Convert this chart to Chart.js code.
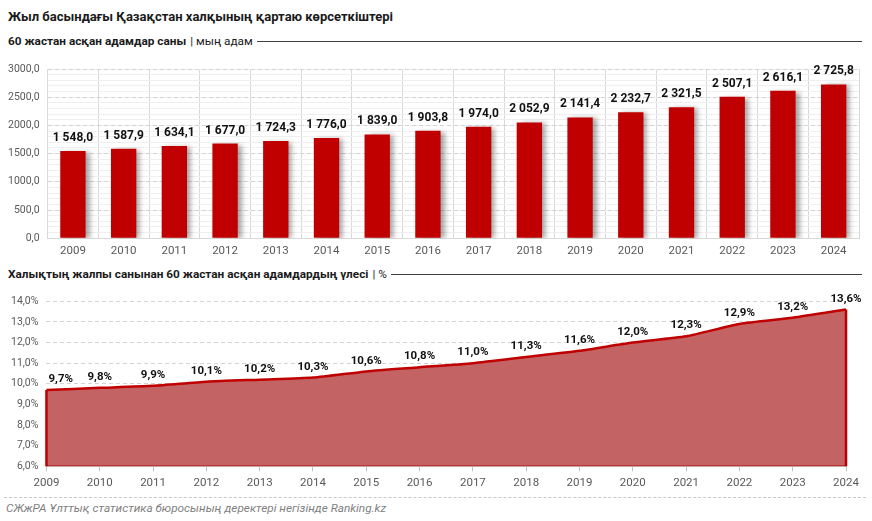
<!DOCTYPE html>
<html>
<head>
<meta charset="utf-8">
<script src="https://cdn.jsdelivr.net/npm/chart.js@4.4.1/dist/chart.umd.min.js"></script>
<style>
  body { margin: 0; width: 872px; height: 521px; background: #fff; position: relative; overflow: hidden; font-family: Roboto, "Noto Sans", sans-serif; }
  .title { position: absolute; left: 8px; top: 9px; font-size: 13px; font-weight: bold; color: #1a1a1a; }
  .sub { position: absolute; left: 8px; width: 854px; display: flex; align-items: center; font-size: 11.8px; color: #1a1a1a; }
  .sub b { white-space: nowrap; }
  .sub span { white-space: nowrap; margin-left: 4px; }
  .sub i { flex: 1; border-top: 1px solid #404040; margin-left: 4px; height: 0; }
  .box { position: absolute; left: 0; width: 872px; }
  .dots { position: absolute; left: 4px; width: 862px; top: 497px; border-top: 1px dashed #c8c8c8; }
  .foot { position: absolute; left: 6px; top: 501px; font-size: 11.8px; font-style: italic; color: #7f7f7f; }
</style>
</head>
<body>
<div class="title">Жыл басындағы Қазақстан халқының қартаю көрсеткіштері</div>
<div class="sub" style="top:34px"><b>60 жастан асқан адамдар саны</b><span>| мың адам</span><i></i></div>
<div class="box" style="top:52px;height:212px"><canvas id="countChart"></canvas></div>
<div class="sub" style="top:267px"><b>Халықтың жалпы санынан 60 жастан асқан адамдардың үлесі</b><span>| %</span><i></i></div>
<div class="box" style="top:287px;height:208px"><canvas id="shareChart"></canvas></div>
<div class="dots"></div>
<div class="foot">СЖжРА Ұлттық статистика бюросының деректері негізінде Ranking.kz</div>

<script>
const years = ['2009','2010','2011','2012','2013','2014','2015','2016','2017','2018','2019','2020','2021','2022','2023','2024'];
const elderly = [1548.0, 1587.9, 1634.1, 1677.0, 1724.3, 1776.0, 1839.0, 1903.8, 1974.0, 2052.9, 2141.4, 2232.7, 2321.5, 2507.1, 2616.1, 2725.8];
const share = [9.7, 9.8, 9.9, 10.1, 10.2, 10.3, 10.6, 10.8, 11.0, 11.3, 11.6, 12.0, 12.3, 12.9, 13.2, 13.6];

const FONT = 'Roboto, "Noto Sans", sans-serif';
const RED = '#c00000';

// 1548.0 -> "1 548,0"
function fmtNum(v) {
    const parts = v.toFixed(1).split('.');
    return parts[0].replace(/\B(?=(\d{3})+(?!\d))/g, ' ') + ',' + parts[1];
}
function fmtPct(v) {
    return v.toFixed(1).replace('.', ',') + '%';
}

// подписи значений над столбцами / точками
const valueLabels = {
    id: 'valueLabels',
    afterDatasetsDraw(chart, args, opts) {
        const ctx = chart.ctx;
        const meta = chart.getDatasetMeta(0);
        const data = chart.data.datasets[0].data;
        ctx.save();
        ctx.font = opts.font;
        ctx.fillStyle = '#111';
        ctx.textAlign = 'center';
        ctx.textBaseline = 'bottom';
        meta.data.forEach((el, i) => {
            const txt = opts.format(data[i]);
            const w = ctx.measureText(txt).width;
            let x = Math.max(el.x, chart.chartArea.left + w / 2 + 2);
            x = Math.min(x, chart.width - w / 2 - 4);
            ctx.fillText(txt, x, el.y - opts.offset);
        });
        ctx.restore();
    }
};

const barShadow = {
    id: 'barShadow',
    beforeDatasetDraw(chart) {
        const ctx = chart.ctx;
        ctx.save();
        ctx.shadowColor = 'rgba(0,0,0,0.35)';
        ctx.shadowOffsetX = 4;
        ctx.shadowOffsetY = 1;
        ctx.shadowBlur = 5;
    },
    afterDatasetDraw(chart) {
        chart.ctx.restore();
    }
};

// красная рамка по краям области
const areaEdges = {
    id: 'areaEdges',
    afterDatasetsDraw(chart) {
        const ctx = chart.ctx;
        const pts = chart.getDatasetMeta(0).data;
        const bottom = chart.scales.y.getPixelForValue(chart.scales.y.min);
        const first = pts[0], last = pts[pts.length - 1];
        ctx.save();
        ctx.strokeStyle = RED;
        ctx.lineWidth = 2.5;
        ctx.beginPath();
        ctx.moveTo(first.x, first.y);
        ctx.lineTo(first.x, bottom);
        ctx.moveTo(last.x, last.y);
        ctx.lineTo(last.x, bottom);
        ctx.stroke();
        ctx.lineWidth = 1;
        ctx.strokeStyle = 'rgba(192,0,0,0.6)';
        ctx.beginPath();
        ctx.moveTo(first.x, bottom - 0.5);
        ctx.lineTo(last.x, bottom - 0.5);
        ctx.stroke();
        ctx.restore();
    }
};

Chart.defaults.font.family = FONT;
Chart.defaults.color = '#595959';
Chart.defaults.animation = false;

new Chart(document.getElementById('countChart'), {
    type: 'bar',
    data: {
        labels: years,
        datasets: [{
            data: elderly,
            backgroundColor: RED,
            categoryPercentage: 1,
            barPercentage: 0.5
        }]
    },
    options: {
        responsive: true,
        maintainAspectRatio: false,
        layout: { padding: { left: 0, right: 13, top: 17, bottom: 0 } },
        plugins: {
            legend: { display: false },
            tooltip: { enabled: false },
            valueLabels: { font: 'bold 12px ' + FONT, offset: 7, format: fmtNum }
        },
        scales: {
            x: {
                grid: { color: '#d9d9d9', drawTicks: false },
                border: { color: '#d9d9d9' },
                ticks: { font: { size: 11.5 }, padding: 6 }
            },
            yMinor: {
                position: 'left',
                min: 0, max: 3000,
                ticks: { display: false, stepSize: 100 },
                grid: { color: '#efefef', drawTicks: false },
                border: { display: false }
            },
            y: {
                position: 'left',
                min: 0, max: 3000,
                ticks: {
                    stepSize: 500,
                    padding: 8,
                    font: { size: 10.5 },
                    callback: v => v.toFixed(1).replace('.', ',')
                },
                grid: { color: '#d4d4d4', drawTicks: false },
                border: { display: false, dash: [4, 3] }
            }
        }
    },
    plugins: [barShadow, valueLabels]
});

new Chart(document.getElementById('shareChart'), {
    type: 'line',
    data: {
        labels: years,
        datasets: [{
            data: share,
            borderColor: RED,
            borderWidth: 2.5,
            backgroundColor: '#c46363',
            fill: 'start',
            tension: 0.2,
            pointRadius: 0
        }]
    },
    options: {
        responsive: true,
        maintainAspectRatio: false,
        layout: { padding: { left: 3, right: 26, top: 8, bottom: 0 } },
        plugins: {
            legend: { display: false },
            tooltip: { enabled: false },
            valueLabels: { font: 'bold 11.5px ' + FONT, offset: 5, format: fmtPct }
        },
        scales: {
            x: {
                offset: false,
                grid: { drawOnChartArea: false, color: '#bfbfbf', tickLength: 5 },
                border: { color: '#bfbfbf' },
                ticks: { font: { size: 11.5 }, padding: 5, maxRotation: 0 }
            },
            y: {
                min: 6, max: 14,
                ticks: {
                    stepSize: 1,
                    padding: 8,
                    font: { size: 10.5 },
                    callback: v => v.toFixed(1).replace('.', ',') + '%'
                },
                grid: { color: '#d4d4d4', drawTicks: false },
                border: { display: false, dash: [4, 3] }
            }
        }
    },
    plugins: [areaEdges, valueLabels]
});
</script>
</body>
</html>
